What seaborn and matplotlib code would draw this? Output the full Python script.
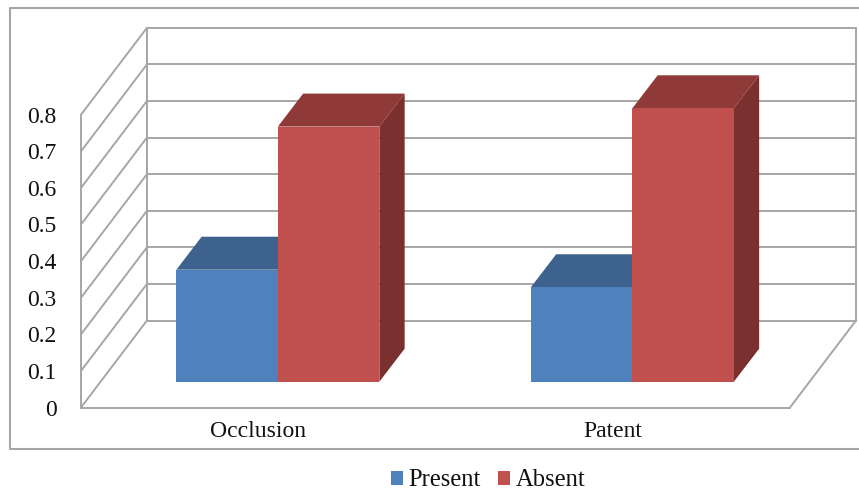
import matplotlib
matplotlib.use("Agg")
import matplotlib.pyplot as plt
from matplotlib.lines import Line2D
from matplotlib.patches import Polygon
import pandas as pd
import seaborn as sns

categories = ["Occlusion", "Patent"]
series_names = ["Present", "Absent"]
present_values = [0.306, 0.258]
absent_values = [0.697, 0.747]
value_ticks = [0, 0.1, 0.2, 0.3, 0.4, 0.5, 0.6, 0.7, 0.8]
tick_labels = ["0", "0.1", "0.2", "0.3", "0.4", "0.5", "0.6", "0.7", "0.8"]

front_colors = ["#4F81BD", "#C0504D"]
top_colors = ["#3E628E", "#8F3A38"]
side_colors = ["#3A5A82", "#7A302E"]
line_color = "#A6A6A6"
text_color = "#111111"

W, H = 859, 491
sns.set_theme(style="white")
plt.rcParams["font.family"] = ["Liberation Serif", "DejaVu Serif"]

fig = plt.figure(figsize=(W / 100, H / 100), dpi=100, facecolor="white")


def plane_axes(left, right, baseline, height):
    """Axes on a vertical plane of the box, given in pixels from the top-left."""
    return fig.add_axes([left / W, (H - baseline) / H, (right - left) / W, height / H])


PLANE_W, PLANE_H = 709, 292.8
wall = plane_axes(81, 81 + PLANE_W, 407.5, PLANE_H)
bars = plane_axes(100.6, 100.6 + PLANE_W, 381.7, PLANE_H)
for a in (wall, bars):
    a.set_xlim(-0.5, 1.5)
    a.set_ylim(0, 0.8)
    a.patch.set_alpha(0)
    sns.despine(ax=a, left=True, bottom=True)

# Scale factors from pixels to data units on both planes
px_x = 2 / PLANE_W
px_y = 0.8 / PLANE_H
depth_x, depth_y = 66 * px_x, 87 * px_y
bar_dx, bar_dy = 25.3 * px_x, 33 * px_y

# Box: side wall, back wall and floor
wall_style = dict(color=line_color, lw=1.4, clip_on=False, zorder=1)
x0, x1 = wall.get_xlim()
for v in value_ticks:
    wall.plot([x0, x0 + depth_x], [v, v + depth_y], **wall_style)
    wall.plot([x0 + depth_x, x1 + depth_x], [v + depth_y, v + depth_y], **wall_style)
wall.plot([x0, x0], [0, 0.8], **wall_style)
wall.plot([x0 + depth_x, x0 + depth_x], [depth_y, 0.8 + depth_y], **wall_style)
wall.plot([x1 + depth_x, x1 + depth_x], [depth_y, 0.8 + depth_y], **wall_style)
wall.plot([x0, x1], [0, 0], **wall_style)
wall.plot([x1, x1 + depth_x], [0, depth_y], **wall_style)

wall.set_yticks(value_ticks, tick_labels)
wall.set_xticks(range(len(categories)), categories)
wall.tick_params(axis="y", length=0, pad=17.7, labelsize=17, labelcolor=text_color)
wall.tick_params(axis="x", length=0, pad=10, labelsize=17, labelcolor=text_color)

# Front faces of the columns
table = pd.DataFrame({
    "category": categories * 2,
    "status": [series_names[0]] * 2 + [series_names[1]] * 2,
    "value": present_values + absent_values,
})
sns.barplot(
    data=table, x="category", y="value", hue="status",
    hue_order=series_names, order=categories, palette=front_colors,
    width=203 / 354.5, gap=0, saturation=1, linewidth=0, ax=bars,
)
bars.set_xlim(-0.5, 1.5)
bars.set_ylim(0, 0.8)
bars.set_axis_off()

# Top and side faces follow each column's own rectangle
for container, top_c, side_c in zip(bars.containers, top_colors, side_colors):
    for rect in container:
        rect.set_zorder(3)
        rect.set_clip_on(False)
        l, r, h = rect.get_x(), rect.get_x() + rect.get_width(), rect.get_height()
        bars.add_patch(Polygon(
            [(l, h), (r, h), (r + bar_dx, h + bar_dy), (l + bar_dx, h + bar_dy)],
            closed=True, fc=top_c, ec="none", zorder=2, clip_on=False))
        bars.add_patch(Polygon(
            [(r, 0), (r + bar_dx, bar_dy), (r + bar_dx, h + bar_dy), (r, h)],
            closed=True, fc=side_c, ec="none", zorder=2, clip_on=False))

# Legend below the frame
handles, labels = bars.get_legend_handles_labels()
bars.get_legend().remove()
fig.legend(
    handles, labels, loc="center", bbox_to_anchor=(488 / W, 1 - 480.5 / H),
    ncol=2, frameon=False, fontsize=17.7, labelcolor=text_color,
    handlelength=0.49, handleheight=0.49, handletextpad=0.2,
    columnspacing=0.74, borderpad=0, borderaxespad=0,
)

# Chart frame, its right edge runs past the canvas
fig.add_artist(Line2D(
    [W + 5, 10, 10, W + 5], [H - 8, H - 8, H - 449, H - 449],
    transform=None, color="#A6A6A6", lw=1.5))

fig.savefig("out.png", dpi=100)
